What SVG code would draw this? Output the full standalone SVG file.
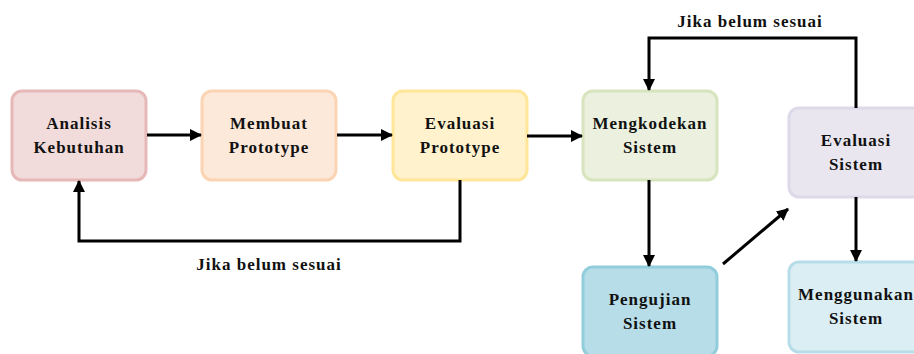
<svg xmlns="http://www.w3.org/2000/svg" width="914" height="354" viewBox="0 0 914 354">
<defs>
<marker id="ah" markerWidth="12" markerHeight="12" refX="11" refY="6" orient="auto" markerUnits="userSpaceOnUse">
<path d="M0,0 L12,6 L0,12 Z" fill="#000"/>
</marker>
</defs>
<style>
.box{stroke-width:3}
.t{font-family:"Liberation Serif","Times New Roman",serif;font-weight:bold;font-size:17px;fill:#111;text-anchor:middle;letter-spacing:1px}
.c{fill:none;stroke:#000;stroke-width:3;marker-end:url(#ah)}
</style>
<rect width="914" height="354" fill="#fff"/>
<g id="analisis">
<rect class="box" x="12" y="91" width="134" height="89" rx="10" fill="#f2dcdb" stroke="#e6b8b7"/>
<text class="t" x="79" y="129">Analisis</text>
<text class="t" x="79" y="153">Kebutuhan</text>
</g>
<g id="membuat">
<rect class="box" x="202" y="91" width="134" height="89" rx="10" fill="#fde9d9" stroke="#fbd4b4"/>
<text class="t" x="269" y="129">Membuat</text>
<text class="t" x="269" y="153">Prototype</text>
</g>
<g id="evaluasi-prototype">
<rect class="box" x="393" y="91" width="134" height="89" rx="10" fill="#fff2cc" stroke="#ffe699"/>
<text class="t" x="460" y="129">Evaluasi</text>
<text class="t" x="460" y="153">Prototype</text>
</g>
<g id="mengkodekan">
<rect class="box" x="583" y="91" width="134" height="89" rx="10" fill="#ebf1de" stroke="#d7e4bd"/>
<text class="t" x="650" y="129">Mengkodekan</text>
<text class="t" x="650" y="153">Sistem</text>
</g>
<g id="evaluasi-sistem">
<rect class="box" x="789" y="108" width="134" height="89" rx="10" fill="#e9e6f0" stroke="#ddd9e8"/>
<text class="t" x="856" y="146">Evaluasi</text>
<text class="t" x="856" y="170">Sistem</text>
</g>
<g id="pengujian">
<rect class="box" x="583" y="267" width="134" height="89" rx="10" fill="#b7dde8" stroke="#92cddc"/>
<text class="t" x="650" y="305">Pengujian</text>
<text class="t" x="650" y="329">Sistem</text>
</g>
<g id="menggunakan">
<rect class="box" x="789" y="262" width="134" height="90" rx="10" fill="#dbeef4" stroke="#b7dde8"/>
<text class="t" x="856" y="300">Menggunakan</text>
<text class="t" x="856" y="324">Sistem</text>
</g>
<g id="connectors">
<path class="c" d="M147,135 L201,135"/>
<path class="c" d="M337,135 L392,135"/>
<path class="c" d="M527,136 L582,136"/>
<path class="c" d="M460,180 L460,241 L79,241 L79,181"/>
<path class="c" d="M649,180 L649,266"/>
<path class="c" d="M723,264 L788,209"/>
<path class="c" d="M856,197 L856,261"/>
<path class="c" d="M856,108 L856,38 L649,38 L649,90"/>
<text class="t" x="269" y="270">Jika belum sesuai</text>
<text class="t" x="750" y="27">Jika belum sesuai</text>
</g>
</svg>
